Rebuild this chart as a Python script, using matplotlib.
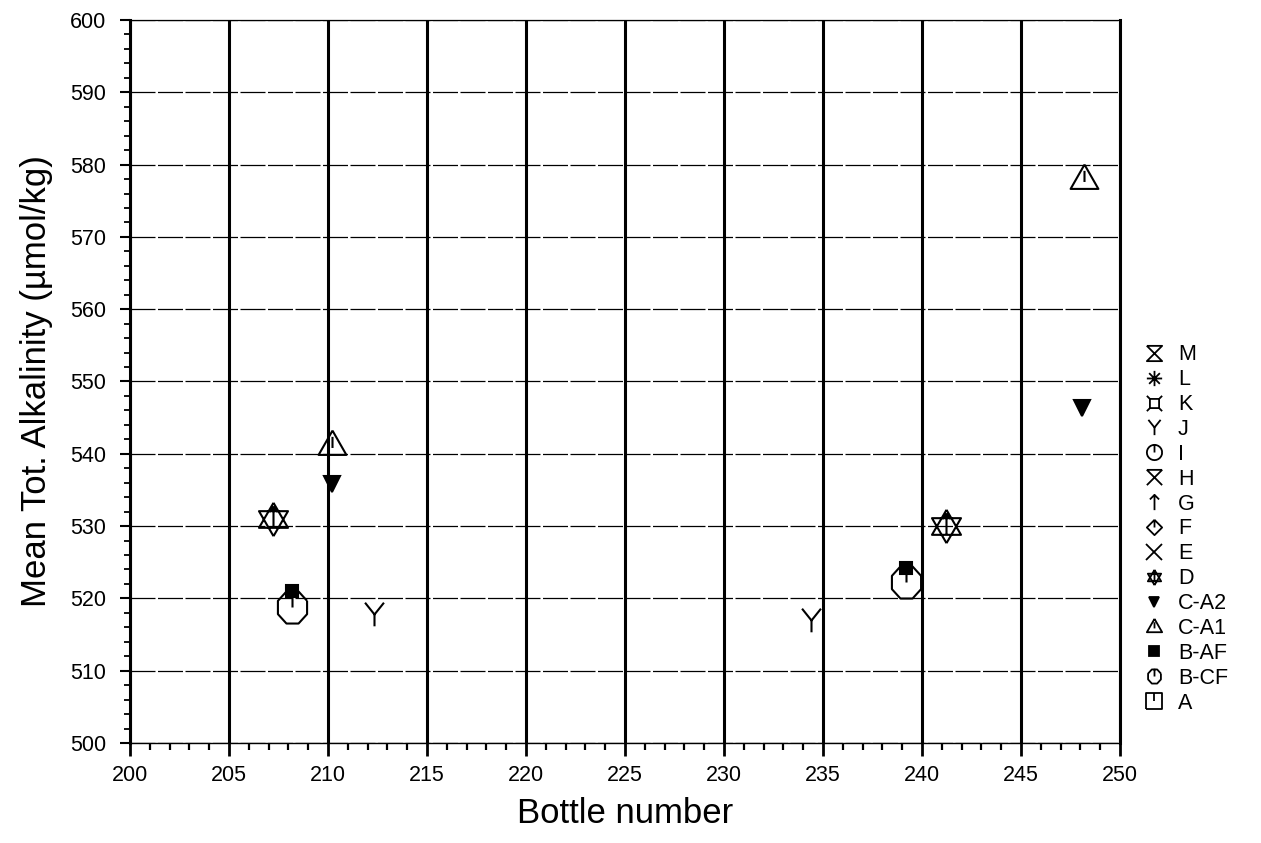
import numpy as np
import matplotlib
matplotlib.use("Agg")
import matplotlib.pyplot as plt
from matplotlib.lines import Line2D
from matplotlib.path import Path
from matplotlib.ticker import MultipleLocator

# --- data ---
bottle_D = [207.2, 241.2]
alk_D = [531.0, 530.0]
bottle_BCF = [208.2, 239.2]
alk_BCF = [518.8, 522.3]
bottle_BAF = [208.2, 239.2]
alk_BAF = [521.0, 524.2]
bottle_CA1 = [210.2, 248.2]
alk_CA1 = [541.4, 578.1]
bottle_CA2 = [210.2, 248.1]
alk_CA2 = [535.8, 546.3]
bottle_J = [212.3, 234.4]
alk_J = [517.8, 517.0]

legend_labels = ["M", "L", "K", "J", "I", "H", "G", "F", "E", "D",
                 "C-A2", "C-A1", "B-AF", "B-CF", "A"]

plt.rcParams.update({
    "font.family": ["Liberation Sans", "DejaVu Sans"],
    "font.size": 15,
})


def line_path(*lines):
    """Build an open marker path from several polylines."""
    verts, codes = [], []
    for line in lines:
        for i, p in enumerate(line):
            verts.append(p)
            codes.append(Path.MOVETO if i == 0 else Path.LINETO)
    return Path(verts, codes)


t = np.linspace(0, 2 * np.pi, 25)
circle = list(zip(np.cos(t), np.sin(t)))
t8 = np.linspace(0, 2 * np.pi, 9) + np.pi / 8
octagon = list(zip(np.cos(t8), 1.1 * np.sin(t8)))

markers = {
    "M": line_path([(-1, 1), (1, 1), (-1, -1), (1, -1), (-1, 1)]),
    "L": line_path([(-1, 0), (1, 0)], [(0, -1), (0, 1)],
                   [(-.7, -.7), (.7, .7)], [(-.7, .7), (.7, -.7)]),
    "K": line_path([(-1, 1), (-.6, .6), (.6, .6), (1, 1)],
                   [(-1, -1), (-.6, -.6), (.6, -.6), (1, -1)],
                   [(-.6, .6), (-.6, -.6)], [(.6, .6), (.6, -.6)]),
    "J": line_path([(0, -1), (0, 0)], [(-.8, 1), (0, 0), (.8, 1)]),
    "I": line_path(circle, [(0, 1), (0, 0)]),
    "H": line_path([(-1, 1), (1, 1)], [(-1, 1), (1, -1)], [(1, 1), (-1, -1)]),
    "G": line_path([(0, -1), (0, 1)], [(-.6, .4), (0, 1), (.6, .4)]),
    "F": line_path([(0, 1), (1, 0), (0, -1), (-1, 0), (0, 1)], [(0, 1), (0, 0)]),
    "E": "x",
    "D": line_path([(0, 1), (-.87, -.5), (.87, -.5), (0, 1)],
                   [(0, -1), (-.87, .5), (.87, .5), (0, -1)],
                   [(0, -.5), (0, .75)], [(-.25, .45), (0, .75), (.25, .45)]),
    "C-A2": "v",
    "C-A1": line_path([(0, 1), (-1, -.75), (1, -.75), (0, 1)], [(0, .55), (0, -.25)]),
    "B-AF": "s",
    "B-CF": line_path(octagon, [(0, 1.1), (0, 0)]),
    "A": line_path([(-1, -1), (-1, 1), (1, 1), (1, -1), (-1, -1)], [(0, 1), (0, 0)]),
}
filled = {"C-A2", "B-AF"}

fig = plt.figure(figsize=(12.61, 8.43), dpi=100)
ax = fig.add_axes([0.1031, 0.1186, 0.785, 0.8577])


def plot_series(x, y, key, size, mew=1.5, z=3):
    fc = "black" if key in filled else "none"
    ax.plot(x, y, linestyle="none", marker=markers[key], markersize=size,
            markeredgecolor="black", markerfacecolor=fc, markeredgewidth=mew,
            zorder=z, clip_on=False)


plot_series(bottle_D, alk_D, "D", 24)
plot_series(bottle_BCF, alk_BCF, "B-CF", 25)
plot_series(bottle_BAF, alk_BAF, "B-AF", 8, z=4)
plot_series(bottle_CA1, alk_CA1, "C-A1", 20)
plot_series(bottle_CA2, alk_CA2, "C-A2", 11)
plot_series(bottle_J, alk_J, "J", 17)

ax.set_xlim(200, 250)
ax.set_ylim(500, 600)
ax.xaxis.set_major_locator(MultipleLocator(5))
ax.xaxis.set_minor_locator(MultipleLocator(1))
ax.yaxis.set_major_locator(MultipleLocator(10))
ax.yaxis.set_minor_locator(MultipleLocator(2))

ax.xaxis.grid(True, which="major", color="black", linewidth=2.2)
ax.yaxis.grid(True, which="major", color="black", linewidth=0.9,
              linestyle=(0, (20, 2)))
ax.set_axisbelow(True)

for side, lw in [("left", 2.2), ("right", 2.2), ("top", 0.9), ("bottom", 1.0)]:
    ax.spines[side].set_linewidth(lw)

ax.tick_params(axis="x", which="major", direction="out", length=9, width=2,
               labelsize=15.5, pad=7)
ax.tick_params(axis="x", which="minor", direction="out", length=5, width=1.6)
ax.tick_params(axis="y", which="major", direction="out", length=7, width=1.5,
               labelsize=15.5, pad=10)
ax.tick_params(axis="y", which="minor", direction="out", length=4, width=1.3)

ax.set_xlabel("Bottle number", fontsize=25, va="center")
ax.xaxis.set_label_coords(0.5, -0.097)
ax.set_ylabel("Mean Tot. Alkalinity (µmol/kg)", fontsize=25, va="center")
ax.yaxis.set_label_coords(-0.094, 0.5)

handles = []
for lab in legend_labels:
    fc = "black" if lab in filled else "none"
    ms = 7 if lab in filled else 11
    handles.append(Line2D([], [], linestyle="none", marker=markers[lab],
                          markersize=ms, markeredgecolor="black",
                          markerfacecolor=fc, markeredgewidth=1.3))

fig.legend(handles, legend_labels, loc="center left",
           bbox_to_anchor=(0.9, 0.3725), frameon=False, fontsize=15.5,
           handlelength=1.0, handletextpad=0.6, labelspacing=0.18,
           borderaxespad=0)

fig.savefig("out.png", dpi=100)
